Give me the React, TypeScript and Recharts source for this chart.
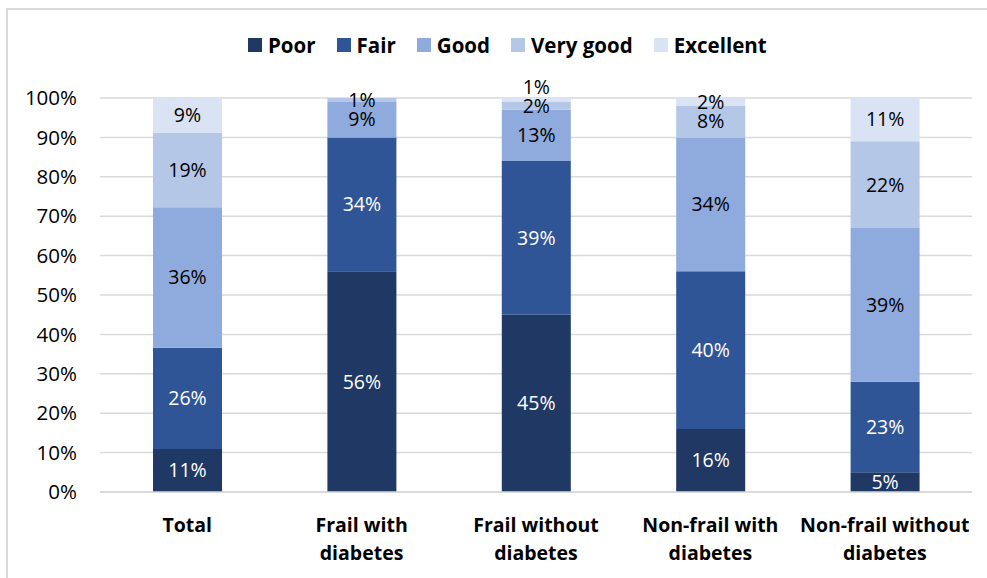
import React from 'react';
import { BarChart, Bar, XAxis, YAxis, CartesianGrid, Legend, LabelList } from 'recharts';

const categories = ['Total', 'Frail with diabetes', 'Frail without diabetes', 'Non-frail with diabetes', 'Non-frail without diabetes'];
const poor = [11, 56, 45, 16, 5];
const fair = [26, 34, 39, 40, 23];
const good = [36, 9, 13, 34, 39];
const veryGood = [19, 1, 2, 8, 22];
const excellent = [9, 0, 1, 2, 11];
const yTicks = [0, 0.1, 0.2, 0.3, 0.4, 0.5, 0.6, 0.7, 0.8, 0.9, 1];

const seriesNames = ['Poor', 'Fair', 'Good', 'Very good', 'Excellent'];
const seriesKeys = ['poor', 'fair', 'good', 'veryGood', 'excellent'];
const colors = ['#203864', '#2F5597', '#8FAADC', '#B4C7E7', '#DAE3F3'];
const labelColors = ['#ffffff', '#ffffff', '#000000', '#000000', '#000000'];

const data = categories.map((c, i) => ({
  name: c,
  poor: poor[i],
  fair: fair[i],
  good: good[i],
  veryGood: veryGood[i],
  excellent: excellent[i],
}));

const FONT = '"Open Sans", Lato, sans-serif';

const makeLabel = (color: string, isTop: boolean) => (props: any) => {
  const { x, y, width, height, value } = props;
  if (!value) return null;
  let cy = y + height / 2;
  if (isTop && height < 6) cy = y - 11;
  return (
    <text x={x + width / 2} y={cy} dy="0.35em" textAnchor="middle" fill={color} fontSize={19.5} fontFamily={FONT}>
      {value}%
    </text>
  );
};

const XTick = (props: any) => {
  const { x, y, payload } = props;
  const label: string = payload.value;
  const idx = label.lastIndexOf(' ');
  const lines = label === 'Total' ? ['Total'] : [label.slice(0, idx), label.slice(idx + 1)];
  return (
    <g>
      {lines.map((l, i) => (
        <text key={i} x={x} y={y + 25 + i * 28} dy="0.35em" textAnchor="middle" fill="#000" fontSize={19.5} fontWeight={700} fontFamily={FONT}>
          {l}
        </text>
      ))}
    </g>
  );
};

const LegendContent = () => (
  <div style={{ position: 'relative', height: 0 }}>
    <div style={{ position: 'absolute', top: 0, left: 0, display: 'flex', paddingLeft: 248, fontFamily: FONT, fontSize: 20.5, fontWeight: 700, color: '#000', alignItems: 'center', whiteSpace: 'nowrap' }}>
      {seriesNames.map((n, i) => (
        <div key={n} style={{ display: 'flex', alignItems: 'center', marginRight: 21 }}>
          <div style={{ width: 14, height: 14, background: colors[i], marginRight: 6 }} />
          <span>{n}</span>
        </div>
      ))}
    </div>
  </div>
);

export default function App() {
  return (
    <div style={{ position: 'absolute', left: 0, top: 0, width: 987, height: 578, overflow: 'hidden', background: '#fff' }}>
      <div style={{ position: 'absolute', left: 6, top: 8, width: 981, height: 570, borderTop: '2px solid #d9d9d9', borderLeft: '2px solid #d9d9d9', boxSizing: 'border-box' }} />
      <div style={{ position: 'absolute', left: 0, top: 0 }}>
        <BarChart width={987} height={578} data={data} stackOffset="expand" margin={{ top: 98, right: 15, bottom: 26, left: 0 }} barSize={69}>
          <CartesianGrid vertical={false} stroke="#d9d9d9" strokeWidth={1.5} />
          <XAxis dataKey="name" axisLine={{ stroke: '#d9d9d9', strokeWidth: 1.5 }} tickLine={false} height={60} interval={0} tick={<XTick />} />
          <YAxis
            width={100}
            domain={[0, 1]}
            ticks={yTicks}
            axisLine={false}
            tickLine={false}
            tickSize={0}
            tickMargin={23}
            tickFormatter={(v: number) => `${Math.round(v * 100)}%`}
            tick={{ fill: '#000', fontSize: 20.5, fontFamily: FONT }}
          />
          <Legend verticalAlign="top" content={<LegendContent />} wrapperStyle={{ top: 31, left: 0, width: 987 }} />
          {seriesKeys.map((k, i) => (
            <Bar key={k} dataKey={k} name={seriesNames[i]} stackId="a" fill={colors[i]} isAnimationActive={false}>
              <LabelList dataKey={k} content={makeLabel(labelColors[i], i === 4)} />
            </Bar>
          ))}
        </BarChart>
      </div>
    </div>
  );
}
